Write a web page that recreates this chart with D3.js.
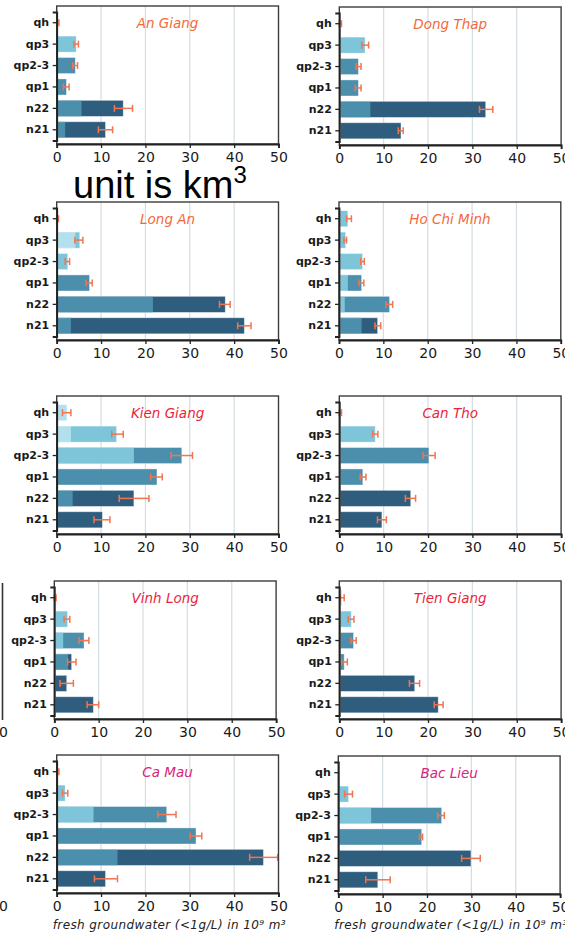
<!DOCTYPE html>
<html><head><meta charset="utf-8">
<script src="https://cdn.jsdelivr.net/npm/d3@7"></script>
<style>
html,body{margin:0;padding:0;background:#fff;overflow:hidden;}
svg{display:block;}
</style></head>
<body>
<script>
// ---------- DATA ----------
const provinces = ["An Giang","Dong Thap","Long An","Ho Chi Minh","Kien Giang","Can Tho","Vinh Long","Tien Giang","Ca Mau","Bac Lieu"];
const layers = ["qh","qp3","qp2-3","qp1","n22","n21"];
const xTicks = [0,10,20,30,40,50];
const xTitle = "fresh groundwater (<1g/L) in 10⁹ m³";
const unitNote = "unit is km";

// total fresh groundwater volume per layer (order: qh, qp3, qp2-3, qp1, n22, n21)
const totals = [
  [0.2, 4.4, 4.2, 2.2, 15.0, 11.0],
  [0.2, 5.8, 4.3, 4.3, 33.0, 13.9],
  [0.2, 5.2, 2.5, 7.4, 38.0, 42.3],
  [2.0, 1.5, 5.3, 5.1, 11.4, 8.7],
  [2.3, 13.5, 28.2, 22.6, 17.4, 10.3],
  [0.2, 8.1, 20.2, 5.3, 16.1, 9.6],
  [0.2, 3.0, 6.7, 3.9, 2.8, 8.8],
  [0.6, 2.7, 3.2, 1.1, 17.0, 22.3],
  [0.2, 1.9, 24.8, 31.4, 46.6, 11.0],
  [0.0, 2.3, 23.3, 18.8, 29.9, 8.9]
];
// value where the lighter (left) part of the bar ends (0 = single colour)
const splits = [
  [0, 0, 0, 0, 5.6, 1.9],
  [0, 0, 0, 0, 7.0, 0],
  [0, 4.2, 0, 0, 21.7, 3.2],
  [0, 0, 0, 2.0, 1.3, 5.1],
  [0, 3.2, 17.4, 0, 3.6, 0],
  [0, 0, 0, 0, 0, 0],
  [0, 0, 2.0, 3.1, 0, 0],
  [0, 0, 0, 0, 0, 0],
  [0, 0, 8.3, 0, 13.7, 0],
  [0, 0, 7.4, 0, 0, 0]
];
// shade level (0 lightest .. 3 darkest) of the left part and of the rest of the bar
const shadeLeft = [
  [1,1,2,2,2,2],
  [1,1,2,2,2,3],
  [0,0,1,2,2,2],
  [1,1,1,1,1,2],
  [0,0,1,2,2,3],
  [1,1,2,2,3,3],
  [1,1,1,2,3,3],
  [0,1,2,2,3,3],
  [1,1,1,2,2,3],
  [1,1,1,2,3,3]
];
const shadeRest = [
  [1,1,2,2,3,3],
  [1,1,2,2,3,3],
  [0,1,1,2,3,3],
  [1,1,1,2,2,3],
  [0,1,2,2,3,3],
  [1,1,2,2,3,3],
  [1,1,2,3,3,3],
  [0,1,2,2,3,3],
  [1,1,2,2,3,3],
  [1,1,2,2,3,3]
];
// uncertainty range (low, high) per layer
const errLow = [
  [0, 3.9, 3.6, 1.5, 13.0, 9.4],
  [0, 5.1, 3.8, 3.6, 31.6, 13.3],
  [0, 4.1, 1.9, 6.6, 36.7, 40.8],
  [1.7, 1.1, 4.9, 4.5, 10.6, 8.1],
  [1.3, 12.4, 25.8, 21.2, 14.1, 8.4],
  [0, 7.5, 18.9, 4.7, 14.9, 8.6],
  [0, 2.2, 5.6, 3.0, 1.3, 7.4],
  [0.2, 2.0, 2.6, 0.5, 15.8, 21.4],
  [0, 1.3, 22.8, 30.1, 43.5, 8.5],
  [null, 1.4, 22.4, 18.3, 27.8, 6.2]
];
const errHigh = [
  [0.5, 4.9, 4.7, 2.8, 17.1, 12.6],
  [0.5, 6.6, 4.9, 4.9, 34.6, 14.4],
  [0.4, 5.9, 2.9, 8.0, 39.1, 43.8],
  [2.8, 1.7, 5.7, 5.6, 12.1, 9.4],
  [3.2, 15.0, 30.6, 23.8, 20.8, 12.0],
  [0.5, 8.7, 21.6, 6.0, 17.2, 10.6],
  [0.4, 3.5, 7.8, 4.9, 4.3, 10.0],
  [1.1, 3.3, 3.8, 1.8, 18.1, 23.4],
  [0.5, 2.5, 26.9, 32.7, 49.8, 13.7],
  [null, 3.2, 23.9, 19.0, 32.0, 11.7]
];

// ---------- STYLE / LAYOUT ----------
const shades = ["#b4e0ed", "#7ec5da", "#4b8fad", "#2f5d7e"];
const errColor = "#f07550";
const titleColors = ["#f26a3a","#f26a3a","#f26a3a","#f26a3a","#ea1f3c","#ea1f3c","#ea1f3c","#ea1f3c","#d6267a","#d6267a"];
const panelX = [56.7, 339.3, 56.7, 339.0, 56.7, 339.3, 54.3, 339.3, 56.7, 338.3];
const panelTop = [6, 7, 202, 202, 396, 396, 581, 581, 755, 756];
const plotW = 221.8, plotH = 138;

const svg = d3.select("body").append("svg").attr("width",565).attr("height",934);

provinces.forEach((name, p) => {
  const x0 = panelX[p], top = panelTop[p], bottom = top + plotH;
  const x = d3.scaleLinear().domain([0,50]).range([x0, x0 + plotW]);
  const y = d3.scaleBand().domain(layers).range([top + 6, top + 134.5]).paddingInner(0.25).paddingOuter(0.125);
  const g = svg.append("g");

  // gridlines
  g.selectAll("line.grid").data(xTicks.filter(t => t > 0 && t < 50)).join("line")
    .attr("x1", d => x(d)).attr("x2", d => x(d)).attr("y1", top).attr("y2", bottom)
    .attr("stroke", "#d3dde2").attr("stroke-width", 1.2);

  // bars
  layers.forEach((l, i) => {
    const tot = totals[p][i], sp = splits[p][i];
    if (tot > 0) {
      g.append("rect").attr("x", x(0) + 1).attr("y", y(l))
        .attr("width", Math.max(0, x(tot) - x(0) - 1)).attr("height", y.bandwidth())
        .attr("fill", shades[shadeRest[p][i]]);
      if (sp > 0) {
        g.append("rect").attr("x", x(0) + 1).attr("y", y(l))
          .attr("width", Math.max(0, x(sp) - x(0) - 1)).attr("height", y.bandwidth())
          .attr("fill", shades[shadeLeft[p][i]]);
      }
      g.append("rect").attr("x", x(0) + 1).attr("y", y(l))
        .attr("width", Math.max(0, x(tot) - x(0) - 1)).attr("height", y.bandwidth())
        .attr("fill", "none").attr("stroke", "rgba(255,255,255,0.45)").attr("stroke-width", 0.8);
    }
    const lo = errLow[p][i], hi = errHigh[p][i];
    if (lo !== null && hi !== null) {
      const cy = y(l) + y.bandwidth() / 2;
      g.append("line").attr("x1", x(lo)).attr("x2", x(hi)).attr("y1", cy).attr("y2", cy)
        .attr("stroke", errColor).attr("stroke-width", 1.5);
      [lo, hi].forEach(v => g.append("line").attr("x1", x(v)).attr("x2", x(v))
        .attr("y1", cy - 3.5).attr("y2", cy + 3.5).attr("stroke", errColor).attr("stroke-width", 1.5));
    }
  });

  // frame
  g.append("rect").attr("x", x0).attr("y", top).attr("width", plotW).attr("height", plotH)
    .attr("fill", "none").attr("stroke", "#3c3c3c").attr("stroke-width", 1.4);

  // axes
  const ax = g.append("g").attr("transform", `translate(0,${bottom})`)
    .call(d3.axisBottom(x).tickValues(xTicks).tickSize(4).tickPadding(4));
  ax.select(".domain").attr("stroke", "#222").attr("stroke-width", 1.8);
  ax.selectAll(".tick line").attr("stroke", "#222").attr("stroke-width", 1.3);
  ax.selectAll("text").attr("font-family", "DejaVu Sans").attr("font-size", 14).attr("fill", "#1a1a1a");

  const ay = g.append("g").attr("transform", `translate(${x0},0)`)
    .call(d3.axisLeft(y).tickSize(4).tickPadding(3.5));
  ay.select(".domain").attr("stroke", "#222").attr("stroke-width", 1.8);
  ay.selectAll(".tick line").attr("stroke", "#222").attr("stroke-width", 1.3);
  ay.selectAll("text").attr("font-family", "DejaVu Sans").attr("font-weight", "bold")
    .attr("font-size", 11).attr("fill", "#1a1a1a");

  // province title
  g.append("text").attr("x", x0 + plotW / 2).attr("y", top + 22).attr("text-anchor", "middle")
    .attr("font-family", "DejaVu Sans").attr("font-style", "italic").attr("font-size", 13.5)
    .attr("fill", titleColors[p]).text(name);

  // x title for bottom row
  if (p >= 8) {
    g.append("text").attr("x", x0 - 4).attr("y", 929)
      .attr("font-family", "DejaVu Sans").attr("font-style", "italic").attr("font-size", 12)
      .attr("letter-spacing", 0.4).attr("fill", "#222").text(xTitle);
  }
});

// cut-off neighbour panel at left edge
svg.append("line").attr("x1", 2.5).attr("x2", 2.5).attr("y1", 583).attr("y2", 720)
  .attr("stroke", "#333").attr("stroke-width", 1.6);
[737, 911].forEach(yy => svg.append("text").attr("x", 3.5).attr("y", yy).attr("text-anchor", "middle")
  .attr("font-family", "DejaVu Sans").attr("font-size", 14).attr("fill", "#1a1a1a").text("0"));

// unit annotation
const note = svg.append("text").attr("x", 73).attr("y", 198)
  .attr("font-family", "Liberation Sans, Arial, sans-serif").attr("font-size", 38).attr("fill", "#000");
note.append("tspan").text(unitNote);
note.append("tspan").attr("dy", -15).attr("font-size", 24).text("3");
</script>
</body></html>
